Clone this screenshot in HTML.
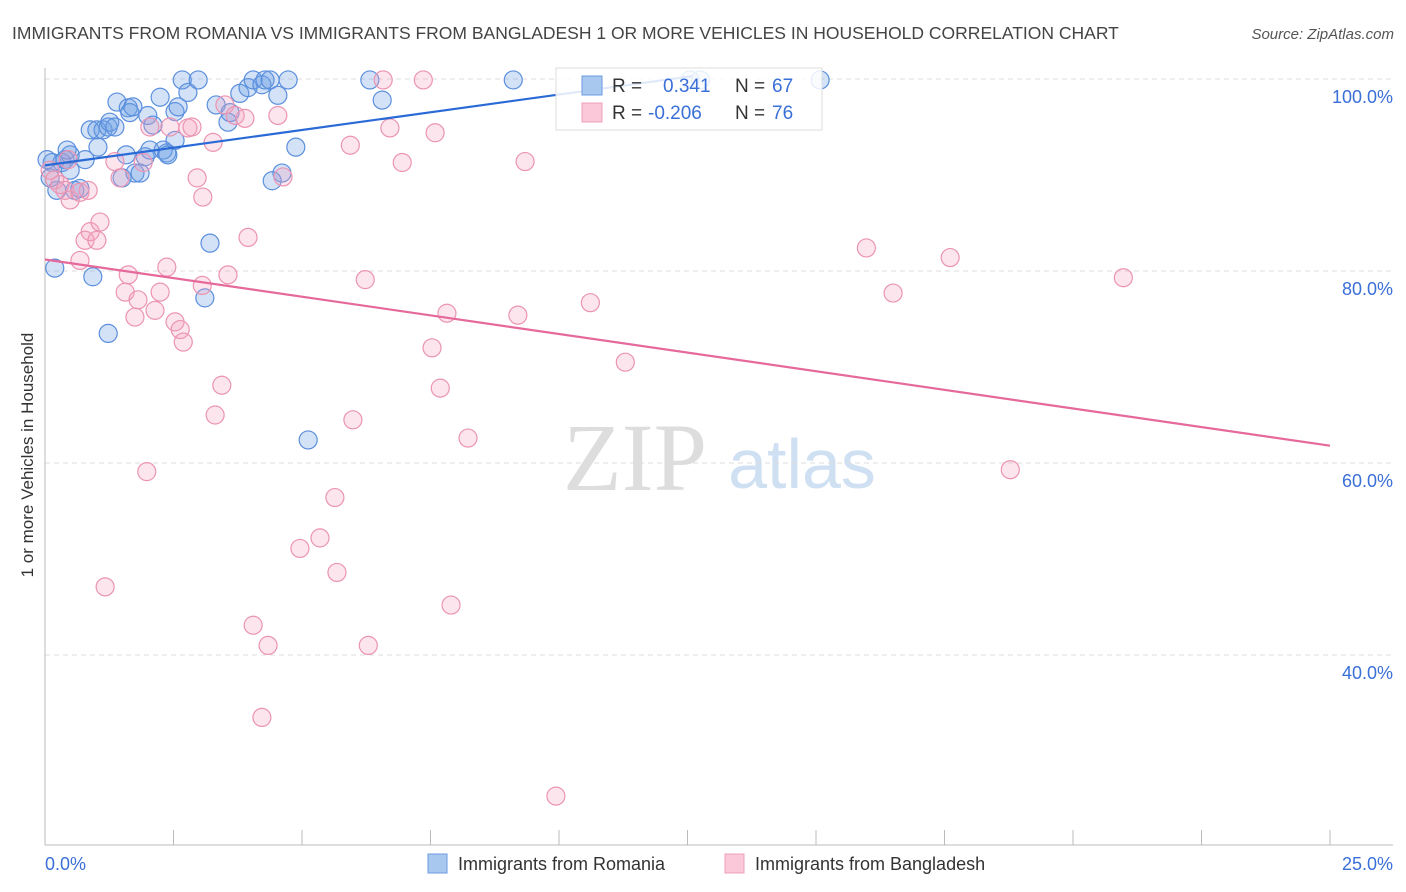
<!DOCTYPE html>
<html><head><meta charset="utf-8"><style>
body{margin:0;background:#fff;font-family:"Liberation Sans",sans-serif;}
svg{display:block}
</style></head><body>
<svg id="chart" width="1406" height="892" viewBox="0 0 1406 892" xmlns="http://www.w3.org/2000/svg" font-family="Liberation Sans, sans-serif">
<text x="12" y="39" font-size="17.5" fill="#444">IMMIGRANTS FROM ROMANIA VS IMMIGRANTS FROM BANGLADESH 1 OR MORE VEHICLES IN HOUSEHOLD CORRELATION CHART</text>
<text x="1394" y="39" font-size="15" fill="#555" font-style="italic" text-anchor="end">Source: ZipAtlas.com</text>
<text transform="translate(33,455) rotate(-90)" font-size="17" fill="#333" text-anchor="middle">1 or more Vehicles in Household</text>
<g>
<text x="635" y="490" font-size="96" font-family="Liberation Serif, serif" fill="#ddd" text-anchor="middle">ZIP</text>
<text x="802" y="488" font-size="70" fill="#cfe0f3" text-anchor="middle">atlas</text>
</g>
<g id="grid"></g>
<g id="axes"></g>
<g id="points"></g>
<g id="trends"></g>
<g>
<rect x="556" y="68" width="266" height="62" fill="#fff" fill-opacity="0.85" stroke="#ddd"/>
<rect x="582" y="76" width="20" height="19" fill="#a9c8f0" stroke="#6b9be0"/>
<rect x="582" y="103" width="20" height="19" fill="#fac8d8" stroke="#eea0b8"/>
<text x="612" y="92" font-size="19" fill="#333">R =</text>
<text x="663" y="92" font-size="19" fill="#3a6fd8">0.341</text>
<text x="735" y="92" font-size="19" fill="#333">N =</text>
<text x="772" y="92" font-size="19" fill="#3a6fd8">67</text>
<text x="612" y="119" font-size="19" fill="#333">R =</text>
<text x="648" y="119" font-size="19" fill="#3a6fd8">-0.206</text>
<text x="735" y="119" font-size="19" fill="#333">N =</text>
<text x="772" y="119" font-size="19" fill="#3a6fd8">76</text>
</g>
<g>
<rect x="428" y="854" width="19" height="19" fill="#a9c8f0" stroke="#6b9be0"/>
<text x="458" y="870" font-size="18" fill="#333">Immigrants from Romania</text>
<rect x="725" y="854" width="19" height="19" fill="#fac8d8" stroke="#eea0b8"/>
<text x="755" y="870" font-size="18" fill="#333">Immigrants from Bangladesh</text>
</g>
</svg>
<script>
const yTicks=[100,80,60,40];
const yTickLabels=["100.0%","80.0%","60.0%","40.0%"];
const xTickCount=10;
const xLabels=["0.0%","25.0%"];
const romaniaX=[0.14,0.19,0.33,0.39,0.49,0.43,0.23,0.58,0.68,0.93,0.88,1.01,1.03,1.13,1.23,1.26,1.36,1.23,1.40,1.58,1.62,1.65,1.71,1.50,1.75,1.85,1.95,2.00,2.04,2.10,2.24,2.30,2.37,2.39,2.53,2.59,2.53,2.67,2.78,2.98,3.11,3.21,3.33,3.56,3.60,3.79,3.95,4.05,4.22,4.28,4.38,4.53,4.73,4.88,4.61,4.42,5.12,6.32,6.56,9.11,12.55,12.75,15.08,0.49,0.10,0.78,0.04];
const romaniaY=[91.3,80.3,91.3,91.6,92.1,92.6,88.4,88.4,88.6,79.4,94.7,94.7,92.9,94.7,95.0,95.5,95.0,73.5,97.6,92.1,97.0,96.5,97.1,89.7,90.2,90.2,91.9,96.2,92.6,95.2,98.1,92.6,92.3,92.1,96.6,97.1,93.6,99.9,98.6,99.9,77.2,82.9,97.3,95.5,96.5,98.5,99.1,99.9,99.4,99.9,99.9,98.3,99.9,92.9,90.2,89.4,62.4,99.9,97.8,99.9,99.9,99.9,99.9,90.5,89.7,91.6,91.6];
const bangladeshX=[0.10,0.19,0.29,0.39,0.49,0.45,0.68,0.84,0.78,0.88,1.01,1.07,0.68,1.36,1.46,1.62,1.56,1.81,1.75,1.91,1.98,2.04,2.14,2.24,2.37,2.53,2.63,2.69,2.43,2.78,2.86,2.96,3.07,3.06,3.27,3.31,3.44,3.56,3.50,3.70,3.89,3.95,4.05,4.34,4.22,4.53,4.63,4.96,5.35,5.64,5.68,5.99,5.94,6.23,6.29,6.58,6.71,6.95,7.36,7.53,7.59,7.69,7.82,7.90,8.23,9.20,9.34,9.94,10.61,11.29,15.98,16.50,17.61,18.78,20.98,1.17];
const bangladeshY=[90.5,89.5,89.0,88.4,87.4,91.6,88.2,88.4,83.2,84.1,83.2,85.1,81.1,91.4,89.7,79.6,77.8,77.0,75.2,91.3,59.1,95.0,75.9,77.8,80.4,74.7,73.9,72.6,95.0,94.9,95.0,89.7,87.7,78.5,93.4,65.0,68.1,79.6,97.3,96.2,95.9,83.5,43.1,41.0,33.5,96.2,89.8,51.1,52.2,56.4,48.6,64.5,93.1,79.1,41.0,99.9,94.9,91.3,99.9,72.0,94.4,67.8,75.6,45.2,62.6,75.4,91.4,25.3,76.7,70.5,82.4,77.7,81.4,59.3,79.3,47.1];
const romaniaTrendX=[0,12.6];
const romaniaTrendY=[91.0,100.3];
const bangladeshTrendX=[0,25];
const bangladeshTrendY=[81.2,61.8];

const NS="http://www.w3.org/2000/svg";
const X0=45,X1=1330,Y100=79,PX20=192;
function sx(v){return X0+(v/25)*(X1-X0);}
function sy(v){return Y100+(100-v)/20*PX20;}
function mk(tag,attrs,parent){const e=document.createElementNS(NS,tag);for(const k in attrs)e.setAttribute(k,attrs[k]);parent.appendChild(e);return e;}
const grid=document.getElementById('grid'),axes=document.getElementById('axes'),pts=document.getElementById('points'),tr=document.getElementById('trends');
yTicks.forEach((t,i)=>{
  const l=mk('line',{x1:45,x2:1393,y1:sy(t),y2:sy(t),stroke:'#ddd','stroke-dasharray':'5,4'},grid);
  
  
  const tx=mk('text',{x:1393,y:sy(t)+24,'font-size':18,fill:'#3a6fd8','text-anchor':'end'},axes);
  tx.textContent=yTickLabels[i];
  
  
});
const ax=mk('line',{x1:45,x2:45,y1:68,y2:845,stroke:'#bbb'},axes);


const bx=mk('line',{x1:45,x2:1393,y1:845,y2:845,stroke:'#bbb'},axes);


for(let i=1;i<=xTickCount;i++){
  const v=25*i/xTickCount;
  const t=mk('line',{x1:sx(v),x2:sx(v),y1:830,y2:845,stroke:'#bbb'},axes);
  
  
}
const xl0=mk('text',{x:45,y:870,'font-size':18,fill:'#3a6fd8'},axes);xl0.textContent=xLabels[0];


const xl1=mk('text',{x:1393,y:870,'font-size':18,fill:'#3a6fd8','text-anchor':'end'},axes);xl1.textContent=xLabels[1];


romaniaX.forEach((x,i)=>{
  const c=mk('circle',{cx:sx(x),cy:sy(romaniaY[i]),r:9,fill:'rgba(110,160,230,0.3)',stroke:'#5b8fdd','stroke-width':1.2},pts);
  
  
});
bangladeshX.forEach((x,i)=>{
  const c=mk('circle',{cx:sx(x),cy:sy(bangladeshY[i]),r:9,fill:'rgba(245,160,190,0.28)',stroke:'#eb94b2','stroke-width':1.2},pts);
  
  
});
const t1=mk('line',{x1:sx(romaniaTrendX[0]),y1:sy(romaniaTrendY[0]),x2:sx(romaniaTrendX[1]),y2:sy(romaniaTrendY[1]),stroke:'#2a6ad6','stroke-width':2.2},tr);


const t2=mk('line',{x1:sx(bangladeshTrendX[0]),y1:sy(bangladeshTrendY[0]),x2:sx(bangladeshTrendX[1]),y2:sy(bangladeshTrendY[1]),stroke:'#e5699a','stroke-width':2.2},tr);


</script>
</body></html>
